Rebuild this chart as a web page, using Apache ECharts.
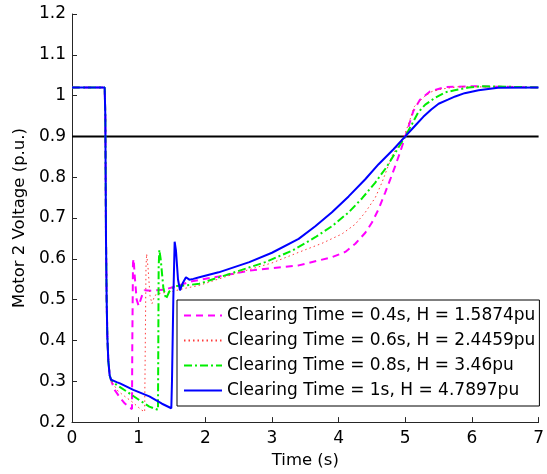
<!DOCTYPE html>
<html><head><meta charset="utf-8">
<script src="https://cdn.jsdelivr.net/npm/echarts@6/dist/echarts.min.js"></script>
<style>html,body{margin:0;padding:0;background:#fff}#c{width:547px;height:474px}</style>
</head><body><div id="c"></div>
<script>
const xTicks = [0,1,2,3,4,5,6,7];
const yTicks = [0.2,0.3,0.4,0.5,0.6,0.7,0.8,0.9,1.0,1.1,1.2];
const threshold = 0.9;
const seriesNames = [
  'Clearing Time = 0.4s, H = 1.5874pu',
  'Clearing Time = 0.6s, H = 2.4459pu',
  'Clearing Time = 0.8s, H = 3.46pu',
  'Clearing Time = 1s, H = 4.7897pu'
];
const faultStart = [[0,1.02],[0.49,1.02],[0.5,0.95],[0.505,0.8],[0.51,0.65],[0.52,0.5],[0.53,0.41],[0.545,0.35],[0.565,0.315],[0.585,0.304]];
const ct04 = [[0.6,0.296],[0.64,0.279],[0.72,0.26],[0.79,0.246],[0.86,0.236],[0.9,0.232],[0.905,0.4],[0.915,0.59],[0.925,0.6],[0.94,0.56],[0.97,0.5],[1.0,0.485],[1.05,0.51],[1.09,0.523],[1.2,0.522],[1.4,0.525],[1.6,0.535],[1.8,0.545],[2.2,0.557],[2.66,0.571],[3.0,0.577],[3.4,0.584],[3.9,0.604],[4.1,0.617],[4.25,0.637],[4.4,0.664],[4.5,0.689],[4.6,0.722],[4.7,0.763],[4.78,0.797],[4.85,0.828],[4.92,0.86],[5.0,0.9],[5.05,0.925],[5.12,0.962],[5.22,0.99],[5.37,1.01],[5.59,1.021],[6,1.023],[7,1.02]];
const ct06 = [[0.6,0.298],[0.69,0.276],[0.8,0.262],[0.9,0.25],[1.04,0.23],[1.09,0.225],[1.1,0.4],[1.11,0.58],[1.12,0.612],[1.14,0.58],[1.17,0.51],[1.2,0.49],[1.24,0.51],[1.3,0.515],[1.5,0.52],[1.7,0.528],[1.91,0.535],[2.41,0.562],[3.0,0.59],[3.4,0.616],[3.75,0.638],[4.05,0.661],[4.25,0.685],[4.4,0.714],[4.55,0.75],[4.65,0.787],[4.8,0.852],[4.9,0.88],[5.0,0.908],[5.14,0.974],[5.29,0.998],[5.4,1.01],[5.54,1.016],[5.8,1.022],[7,1.02]];
const ct08 = [[0.6,0.3],[0.67,0.291],[0.82,0.275],[1.01,0.254],[1.16,0.238],[1.29,0.23],[1.295,0.4],[1.3,0.58],[1.31,0.622],[1.33,0.6],[1.37,0.53],[1.41,0.502],[1.46,0.52],[1.54,0.533],[1.76,0.536],[1.91,0.539],[2.4,0.565],[2.9,0.592],[3.3,0.62],[3.65,0.653],[3.9,0.68],[4.15,0.714],[4.35,0.748],[4.55,0.787],[4.72,0.825],[4.85,0.86],[5.0,0.9],[5.1,0.93],[5.19,0.958],[5.3,0.978],[5.44,0.994],[5.6,1.008],[5.74,1.013],[5.95,1.02],[6.14,1.023],[7,1.02]];
const ct10 = [[0.6,0.303],[0.67,0.298],[0.72,0.295],[0.92,0.279],[1.16,0.263],[1.35,0.245],[1.49,0.234],[1.5,0.3],[1.52,0.5],[1.54,0.642],[1.56,0.62],[1.59,0.55],[1.62,0.523],[1.66,0.54],[1.71,0.555],[1.76,0.549],[1.82,0.551],[1.91,0.555],[2.2,0.567],[2.66,0.592],[3.0,0.615],[3.4,0.649],[3.65,0.68],[3.9,0.714],[4.15,0.753],[4.4,0.795],[4.6,0.832],[4.82,0.868],[5.0,0.9],[5.14,0.925],[5.27,0.948],[5.39,0.966],[5.5,0.98],[5.64,0.99],[5.75,0.998],[5.89,1.006],[6.1,1.013],[6.39,1.019],[7,1.02]];

const FONT = 'DejaVu Sans, sans-serif';
const chart = echarts.init(document.getElementById('c'), null, {renderer:'canvas'});
function mk(name, pts, color, type, width){
  return {name, type:'line', data: faultStart.concat(pts), showSymbol:false, symbol:'none',
    lineStyle:{color, type, width}, itemStyle:{color}, animation:false};
}
chart.setOption({
  animation:false,
  backgroundColor:'#fff',
  grid:{left:72,right:6,top:14,bottom:50},
  xAxis:{type:'value',min:xTicks[0],max:xTicks[xTicks.length-1],interval:1,
    name:'Time (s)',nameLocation:'middle',nameGap:27,
    nameTextStyle:{color:'#000',fontSize:16.5,fontFamily:FONT},
    axisLine:{lineStyle:{color:'#262626',width:1}},
    axisTick:{inside:true,length:5,lineStyle:{color:'#262626'}},
    axisLabel:{color:'#000',fontSize:17,fontFamily:FONT,margin:8},
    splitLine:{show:false}},
  yAxis:{type:'value',min:yTicks[0],max:yTicks[yTicks.length-1],interval:0.1,
    name:'Motor 2 Voltage (p.u.)',nameLocation:'middle',nameGap:38,
    nameTextStyle:{color:'#000',fontSize:16.5,fontFamily:FONT},
    axisLine:{show:true,lineStyle:{color:'#262626',width:1}},
    axisTick:{show:true,inside:true,length:5,lineStyle:{color:'#262626'}},
    axisLabel:{color:'#000',fontSize:17,fontFamily:FONT,margin:6,
      formatter:v=>String(Math.round(v*10)/10)},
    splitLine:{show:false}},
  legend:{data:seriesNames,orient:'vertical',left:177,top:300,
    backgroundColor:'#fff',borderColor:'#000',borderWidth:1,
    padding:[7,4,7,6],itemGap:8,itemWidth:38,itemHeight:20,itemTextGap:6,
    itemStyle:{opacity:0},
    textStyle:{color:'#000',fontSize:17,fontFamily:FONT}},
  series:[
    {name:'threshold',type:'line',data:[[xTicks[0],threshold],[xTicks[xTicks.length-1],threshold]],
      showSymbol:false,symbol:'none',lineStyle:{color:'#000',width:2},animation:false},
    mk(seriesNames[0], ct04, '#ff00ff', [7,5], 2),
    mk(seriesNames[1], ct06, '#ff3b3b', [1.5,3], 1),
    mk(seriesNames[2], ct08, '#00ee00', [8,3,2,3], 2),
    mk(seriesNames[3], ct10, '#0000ff', 'solid', 2)
  ]
});
</script></body></html>
